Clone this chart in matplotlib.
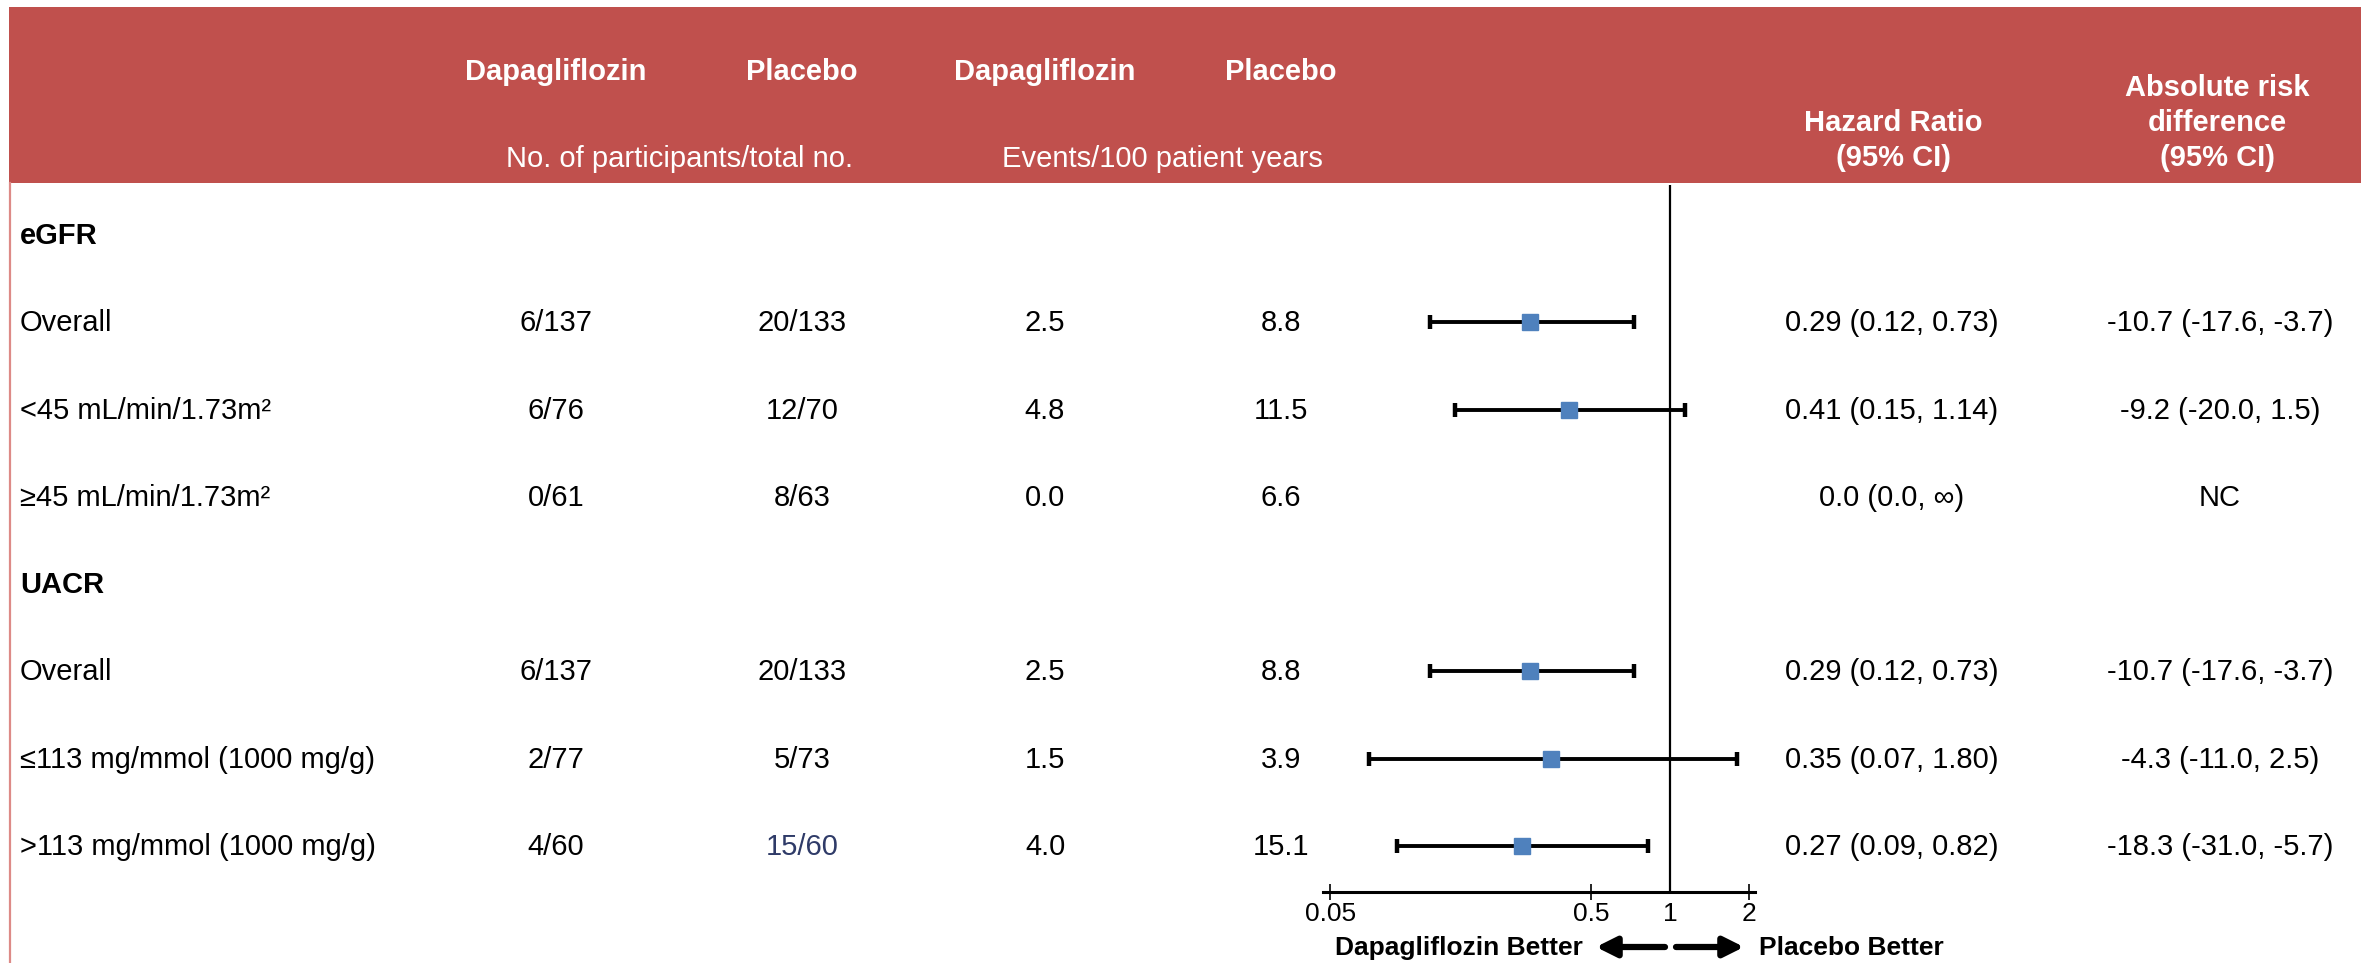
import numpy as np
import matplotlib
matplotlib.use("Agg")
import matplotlib.pyplot as plt
from matplotlib.patches import Rectangle

plt.rcParams['font.family'] = ['Liberation Sans', 'DejaVu Sans']

# table rows (section headers have no data)
row_labels = ["eGFR", "Overall", "<45 mL/min/1.73m²", "≥45 mL/min/1.73m²",
              "UACR", "Overall", "≤113 mg/mmol (1000 mg/g)", ">113 mg/mmol (1000 mg/g)"]
is_section = [True, False, False, False, True, False, False, False]

dapa_n = [None, "6/137", "6/76", "0/61", None, "6/137", "2/77", "4/60"]
pbo_n = [None, "20/133", "12/70", "8/63", None, "20/133", "5/73", "15/60"]
dapa_rate = [None, 2.5, 4.8, 0.0, None, 2.5, 1.5, 4.0]
pbo_rate = [None, 8.8, 11.5, 6.6, None, 8.8, 3.9, 15.1]

hr = [None, 0.29, 0.41, 0.0, None, 0.29, 0.35, 0.27]
hr_lo = [None, 0.12, 0.15, 0.0, None, 0.12, 0.07, 0.09]
hr_hi = [None, 0.73, 1.14, np.inf, None, 0.73, 1.80, 0.82]
ard = [None, "-10.7 (-17.6, -3.7)", "-9.2 (-20.0, 1.5)", "NC", None,
       "-10.7 (-17.6, -3.7)", "-4.3 (-11.0, 2.5)", "-18.3 (-31.0, -5.7)"]

x_ticks = [0.05, 0.5, 1, 2]
x_tick_labels = ["0.05", "0.5", "1", "2"]

W, H = 2361, 963
RED = "#c0504d"
BLUE = "#4f81bd"

fig = plt.figure(figsize=(W / 100, H / 100), dpi=100)

# background axes in pixel units for the table
bg = fig.add_axes([0, 0, 1, 1])
bg.set_xlim(0, W)
bg.set_ylim(H, 0)
bg.axis("off")

bg.add_patch(Rectangle((9, 7), W - 9, 176, color=RED, lw=0))
bg.plot([10, 10], [183, H], color="#dd8a87", lw=1.6)

hdr = dict(color="white", fontsize=21, ha="center", va="baseline")
col_x = [556, 802, 1045, 1281]
for x, t in zip(col_x, ["Dapagliflozin", "Placebo", "Dapagliflozin", "Placebo"]):
    bg.text(x, 80, t, fontweight="bold", **hdr)
bg.text(679, 167, "No. of participants/total no.", **hdr)
bg.text(1162, 167, "Events/100 patient years", **hdr)
bg.text(1893, 131, "Hazard Ratio", fontweight="bold", **hdr)
bg.text(1893, 166, "(95% CI)", fontweight="bold", **hdr)
bg.text(2217, 96, "Absolute risk", fontweight="bold", **hdr)
bg.text(2217, 131, "difference", fontweight="bold", **hdr)
bg.text(2217, 166, "(95% CI)", fontweight="bold", **hdr)

HR_X, ARD_X = 1892, 2220
row_y = [235 + 87.3 * i for i in range(len(row_labels))]

cell = dict(fontsize=21, va="baseline", color="black")
for i, y in enumerate(row_y):
    yb = y + 9
    if is_section[i]:
        bg.text(20, yb, row_labels[i], fontweight="bold", ha="left", **cell)
        continue
    bg.text(20, yb, row_labels[i], ha="left", **cell)
    bg.text(col_x[0], yb, dapa_n[i], ha="center", **cell)
    c = dict(cell)
    if pbo_n[i] == "15/60":
        c["color"] = "#2f3b68"
    bg.text(col_x[1], yb, pbo_n[i], ha="center", **c)
    bg.text(col_x[2], yb, f"{dapa_rate[i]:.1f}", ha="center", **cell)
    bg.text(col_x[3], yb, f"{pbo_rate[i]:.1f}", ha="center", **cell)
    if np.isinf(hr_hi[i]):
        hr_txt = f"{hr[i]:.1f} ({hr_lo[i]:.1f}, ∞)"
    else:
        hr_txt = f"{hr[i]:.2f} ({hr_lo[i]:.2f}, {hr_hi[i]:.2f})"
    bg.text(HR_X, yb, hr_txt, ha="center", **cell)
    bg.text(ARD_X, yb, ard[i], ha="center", **cell)

# forest plot on a log axis: x=1 at 1670 px, 261 px per decade
xlo, xhi = 0.047, 2.12
left_px = 1670 + 261 * np.log10(xlo)
right_px = 1670 + 261 * np.log10(xhi)
top_px, bot_px = 185, 892
ax = fig.add_axes([left_px / W, (H - bot_px) / H,
                   (right_px - left_px) / W, (bot_px - top_px) / H])
ax.set_xscale("log")
ax.set_xlim(xlo, xhi)
ax.set_ylim(bot_px, top_px)
ax.patch.set_alpha(0)

for i, y in enumerate(row_y):
    if is_section[i] or hr[i] is None or hr[i] <= 0 or np.isinf(hr_hi[i]):
        continue
    ax.errorbar(hr[i], y, xerr=[[hr[i] - hr_lo[i]], [hr_hi[i] - hr[i]]],
                fmt="s", color="black", ecolor="black", elinewidth=2.8,
                capsize=4.7, capthick=3.2, markersize=11.5,
                markerfacecolor=BLUE, markeredgecolor=BLUE, zorder=3)

ax.axvline(1, color="black", lw=1.6, zorder=2)

for s in ["top", "left", "right"]:
    ax.spines[s].set_visible(False)
ax.spines["bottom"].set_linewidth(2.2)
ax.set_yticks([])
ax.set_xticks(x_ticks)
ax.set_xticklabels(x_tick_labels)
ax.minorticks_off()
ax.tick_params(axis="x", direction="inout", length=11.5, width=1.2,
               labelsize=19, pad=1.5)
ax.xaxis.get_major_ticks()[2].tick1line.set_visible(False)

# direction labels under the axis
bg.text(1583, 955, "Dapagliflozin Better", fontsize=19, fontweight="bold",
        ha="right", va="baseline")
bg.text(1759, 955, "Placebo Better", fontsize=19, fontweight="bold",
        ha="left", va="baseline")
arrow = dict(arrowstyle="-|>", lw=4.5, color="black", mutation_scale=30,
             shrinkA=0, shrinkB=0)
bg.annotate("", xy=(1596, 947), xytext=(1665, 947), arrowprops=arrow)
bg.annotate("", xy=(1744, 947), xytext=(1676, 947), arrowprops=arrow)

fig.savefig("out.png", dpi=100)
